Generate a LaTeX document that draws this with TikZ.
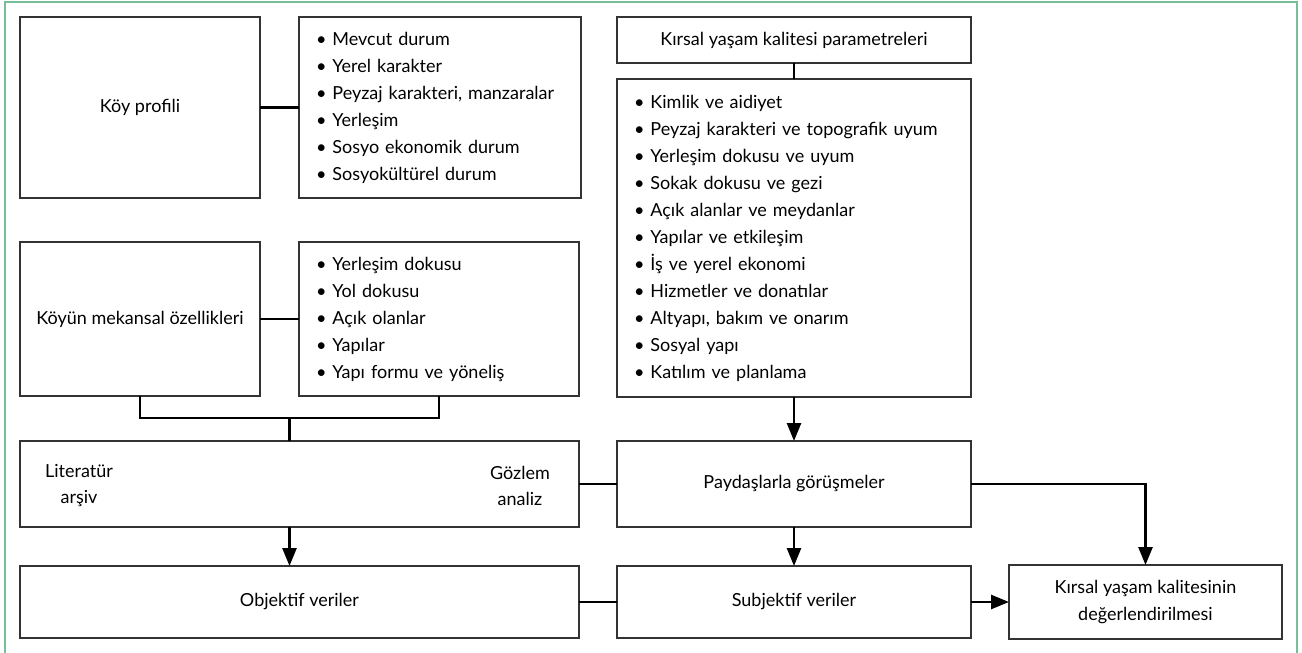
\documentclass[tikz,border=0pt]{standalone}
\usepackage{fontspec}
\setmainfont{Lato}
\usepackage{tikz}
\usetikzlibrary{arrows.meta}
\definecolor{cerceve}{RGB}{120,190,150}
\tikzstyle{kutu} = [draw=black!80,line width=0.6pt,inner sep=0pt,outer sep=0pt,font=\fontsize{9}{13.5}\selectfont,align=center]
\tikzstyle{liste} = [kutu,align=left,inner xsep=8.5pt]
\tikzstyle{yazi} = [inner sep=0pt,font=\fontsize{9}{13}\selectfont,align=center]
\tikzstyle{hat} = [line width=1.3pt]
\tikzstyle{arrow} = [hat,-{Triangle[length=9pt,width=7pt]}]

\begin{document}
\begin{tikzpicture}[x=0.5pt,y=-0.5pt]
    \useasboundingbox (0,0) rectangle (1302,653);
    \draw[cerceve,line width=0.8pt] (5,653) -- (5,2) -- (1297,2) -- (1297,653);

    \node[kutu,minimum width=120pt,minimum height=90.5pt] (koyprofili) at (140,107.5) {Köy profili};
    \node[liste,minimum width=141pt,minimum height=90.5pt,text width=124pt] (profillist) at (440,107.5) {%
        • Mevcut durum\\
        • Yerel karakter\\
        • Peyzaj karakteri, manzaralar\\
        • Yerleşim\\
        • Sosyo ekonomik durum\\
        • Sosyokültürel durum};
    \node[kutu,minimum width=177pt,minimum height=23pt] (parametre) at (794,40) {Kırsal yaşam kalitesi parametreleri};
    \node[liste,minimum width=177pt,minimum height=159pt,text width=160pt] (paramlist) at (794,238) {%
        • Kimlik ve aidiyet\\
        • Peyzaj karakteri ve topografik uyum\\
        • Yerleşim dokusu ve uyum\\
        • Sokak dokusu ve gezi\\
        • Açık alanlar ve meydanlar\\
        • Yapılar ve etkileşim\\
        • İş ve yerel ekonomi\\
        • Hizmetler ve donatılar\\
        • Altyapı, bakım ve onarım\\
        • Sosyal yapı\\
        • Katılım ve planlama};
    \node[kutu,minimum width=120pt,minimum height=77pt] (mekansal) at (140,319) {Köyün mekansal özellikleri};
    \node[liste,minimum width=140pt,minimum height=77pt,text width=123pt] (mekanlist) at (439,319) {%
        • Yerleşim dokusu\\
        • Yol dokusu\\
        • Açık olanlar\\
        • Yapılar\\
        • Yapı formu ve yöneliş};
    \node[kutu,minimum width=279.5pt,minimum height=43pt] (literatur) at (299.5,484) {};
    \node[yazi] (arsiv) at (79,486) {Literatür\\arşiv};
    \node[yazi] (gozlem) at (520,486) {Gözlem\\analiz};
    \node[kutu,minimum width=177pt,minimum height=43pt] (paydas) at (794,484) {Paydaşlarla görüşmeler};
    \node[kutu,minimum width=279.5pt,minimum height=36pt] (objektif) at (299.5,602) {Objektif veriler};
    \node[kutu,minimum width=177pt,minimum height=36pt] (subjektif) at (794,602) {Subjektif veriler};
    \node[kutu,minimum width=136.5pt,minimum height=37pt] (degerlendirme) at (1145.5,602) {Kırsal yaşam kalitesinin\\değerlendirilmesi};

    \coordinate (birlesim) at (289.5,418);
    \draw[hat] (koyprofili) -- (profillist);
    \draw[hat] (mekansal) -- (mekanlist);
    \draw[hat] (parametre) -- (paramlist);
    \draw[hat] (mekansal.south) |- (birlesim) -| (mekanlist.south);
    \draw[hat] (birlesim) -- (birlesim |- literatur.north);
    \draw[arrow] (birlesim |- literatur.south) -- (birlesim |- objektif.north);
    \draw[arrow] (paramlist) -- (paydas);
    \draw[arrow] (paydas) -- (subjektif);
    \draw[hat] (literatur) -- (paydas);
    \draw[hat] (objektif) -- (subjektif);
    \draw[arrow] (subjektif) -- (degerlendirme);
    \draw[arrow] (paydas.east) -| (degerlendirme.north);
\end{tikzpicture}
\end{document}
